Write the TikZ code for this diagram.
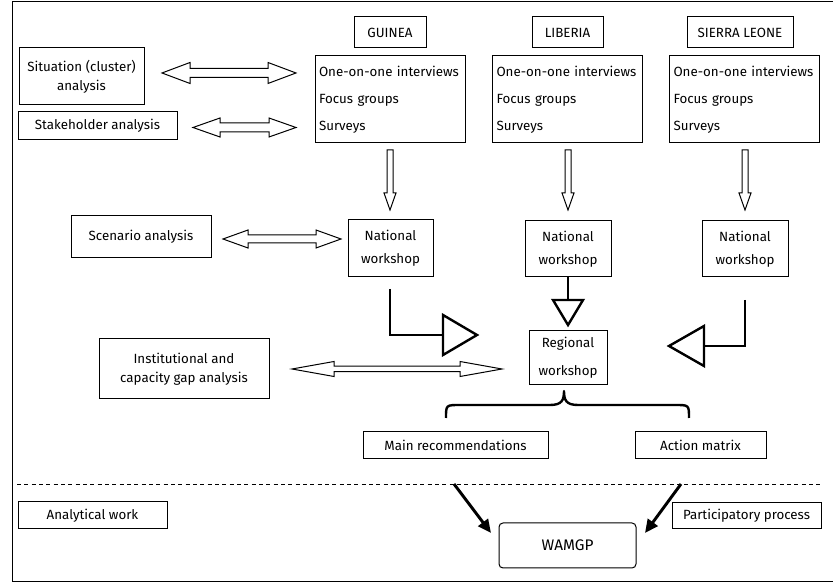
\documentclass[tikz,border=0pt]{standalone}
\usepackage{fontspec}
\setmainfont{Fira Sans}
\usetikzlibrary{calc,arrows.meta}
% horizontal hollow double block arrow: left, right, shaft half, head half, head length (px)
\newcommand{\hdbl}[5]{\draw[hol] let \p1=#1, \p2=#2 in
  (\x1,\y1) -- (\x1+#5*0.75pt,\y1+#4*0.75pt) -- (\x1+#5*0.75pt,\y1+#3*0.75pt)
  -- (\x2-#5*0.75pt,\y1+#3*0.75pt) -- (\x2-#5*0.75pt,\y1+#4*0.75pt) -- (\x2,\y1)
  -- (\x2-#5*0.75pt,\y1-#4*0.75pt) -- (\x2-#5*0.75pt,\y1-#3*0.75pt)
  -- (\x1+#5*0.75pt,\y1-#3*0.75pt) -- (\x1+#5*0.75pt,\y1-#4*0.75pt) -- cycle;}
% vertical hollow down block arrow: top, tip, shaft half, head half, head length (px)
\newcommand{\vdown}[5]{\draw[hol] let \p1=#1, \p2=#2 in
  (\x1-#3*0.75pt,\y1) -- (\x1+#3*0.75pt,\y1) -- (\x1+#3*0.75pt,\y2+#5*0.75pt)
  -- (\x1+#4*0.75pt,\y2+#5*0.75pt) -- (\x1,\y2) -- (\x1-#4*0.75pt,\y2+#5*0.75pt)
  -- (\x1-#3*0.75pt,\y2+#5*0.75pt) -- cycle;}
\begin{document}
\begin{tikzpicture}[x=0.75pt,y=-0.75pt,
  box/.style={draw, line width=0.75pt, inner sep=0pt, align=center, font=\fontsize{10}{14.25}\selectfont},
  bx/.style 2 args={box, minimum width=#1*0.75pt, minimum height=#2*0.75pt},
  meth/.style={draw, line width=0.75pt, inner sep=0pt, inner xsep=4*0.75pt, text width=142*0.75pt,
    minimum height=87*0.75pt, align=left, font=\fontsize{10}{20.25}\selectfont},
  hol/.style={line width=0.75pt, fill=white, line join=miter},
  heavy/.style={line width=1.8pt, line join=miter},
  bigarr/.style={line width=2.2pt, -{Triangle[length=10pt,width=9pt]}},
  sepline/.style={line width=0.75pt, dash pattern=on 3pt off 2.5pt}
]
\useasboundingbox (0,0) rectangle (833,584);
% frame
\draw[line width=0.75pt] (845,2) -- (12,2) -- (12,582) -- (845,582);

% country headers
\node[bx={72}{31}] (guinea) at (390,32.5) {GUINEA};
\node[bx={71}{31}] (liberia) at (567.5,32.5) {LIBERIA};
\node[bx={106}{31}] (sleone) at (740,32.5) {SIERRA LEONE};

% methods
\node[meth] (gmeth) at (390,99.5) {One-on-one interviews\\Focus groups\\Surveys};
\node[meth] (lmeth) at (567.5,99.5) {One-on-one interviews\\Focus groups\\Surveys};
\node[meth] (smeth) at (744.5,99.5) {One-on-one interviews\\Focus groups\\Surveys};

% analyses
\node[bx={125}{57}] (sit) at (81.5,76.5) {Situation (cluster)\\analysis};
\node[bx={159}{28}] (stake) at (97.5,126) {Stakeholder analysis};
\node[bx={140}{42}] (scen) at (141,237) {Scenario analysis};
\node[bx={170}{60}] (inst) at (184,369) {Institutional and\\capacity gap analysis};

% national workshops
\node[bx={85}{57}, font=\fontsize{10}{17.25}\selectfont] (gnat) at (390.5,248.5) {National\\workshop};
\node[bx={86}{56}, font=\fontsize{10}{17.25}\selectfont] (lnat) at (568,249) {National\\workshop};
\node[bx={86}{56}, font=\fontsize{10}{17.25}\selectfont] (snat) at (745,249) {National\\workshop};

% regional
\node[bx={78}{54}, font=\fontsize{10}{21}\selectfont] (reg) at (568,358) {Regional\\workshop};

% outputs
\node[bx={185}{27}] (mainrec) at (455.5,445.5) {Main recommendations};
\node[bx={131}{27}] (action) at (700.5,445.5) {Action matrix};
\node[bx={149}{27}] (anal) at (92.5,515.5) {Analytical work};
\node[bx={149}{26}] (part) at (746.5,516) {Participatory process};
\node[bx={137}{45}, rounded corners=3pt, font=\fontsize{11.5}{13}\selectfont] (wamgp) at (567.5,545.5) {WAMGP};

% double block arrows
\coordinate (sa1) at (162,73);   \coordinate (sa2) at (296,73);
\coordinate (ka1) at (193,127.5); \coordinate (ka2) at (296,127.5);
\coordinate (ca1) at (223,239);  \coordinate (ca2) at (341,239);
\coordinate (ia1) at (292,369);  \coordinate (ia2) at (502,369);
\hdbl{(sa1)}{(sa2)}{4.5}{10.5}{28}
\hdbl{(ka1)}{(ka2)}{4.5}{9.5}{27}
\hdbl{(ca1)}{(ca2)}{4}{9}{25}
\hdbl{(ia1)}{(ia2)}{2.75}{7.5}{42}

% down block arrows
\coordinate (gd1) at (390,150); \coordinate (gd2) at (390,210);
\coordinate (ld1) at (568,150); \coordinate (ld2) at (568,210);
\coordinate (sd1) at (745,150); \coordinate (sd2) at (745,210);
\vdown{(gd1)}{(gd2)}{3}{6}{17}
\vdown{(ld1)}{(ld2)}{3}{6}{17}
\vdown{(sd1)}{(sd2)}{3}{6}{17}

% elbow arrows to regional workshop
\coordinate (ge1) at (390,289); \coordinate (gt) at (443,335);
\draw[heavy] (ge1) |- (gt);
\draw[heavy] ($(gt)+(0,-20)$) -- ($(gt)+(34,0)$) -- ($(gt)+(0,20)$) -- cycle;

\coordinate (lt) at (568,300);
\draw[heavy] (lnat.south) -- (lt);
\draw[heavy] ($(lt)+(-15,0)$) -- ($(lt)+(15,0)$) -- ($(lt)+(0,25)$) -- cycle;

\coordinate (se1) at (745,300); \coordinate (st) at (704,346);
\draw[heavy] (se1) |- (st);
\draw[heavy] ($(st)+(0,-20)$) -- ($(st)+(-35,0)$) -- ($(st)+(0,20)$) -- cycle;

% brace
\draw[heavy, line join=round] (446,418) .. controls (446,405) and (446,405) .. (460,405) -- (550,405)
  .. controls (562,405) and (564,400) .. (564,391)
  .. controls (564,400) and (566,405) .. (578,405) -- (675,405)
  .. controls (689,405) and (689,405) .. (689,418);

% separator
\draw[sepline] (17,485) -- (821,485);

% arrows to WAMGP
\coordinate (m1) at (454,484); \coordinate (m2) at (491,533);
\coordinate (a1) at (681,484); \coordinate (a2) at (645,533);
\draw[bigarr] (m1) -- (m2);
\draw[bigarr] (a1) -- (a2);
\end{tikzpicture}
\end{document}
